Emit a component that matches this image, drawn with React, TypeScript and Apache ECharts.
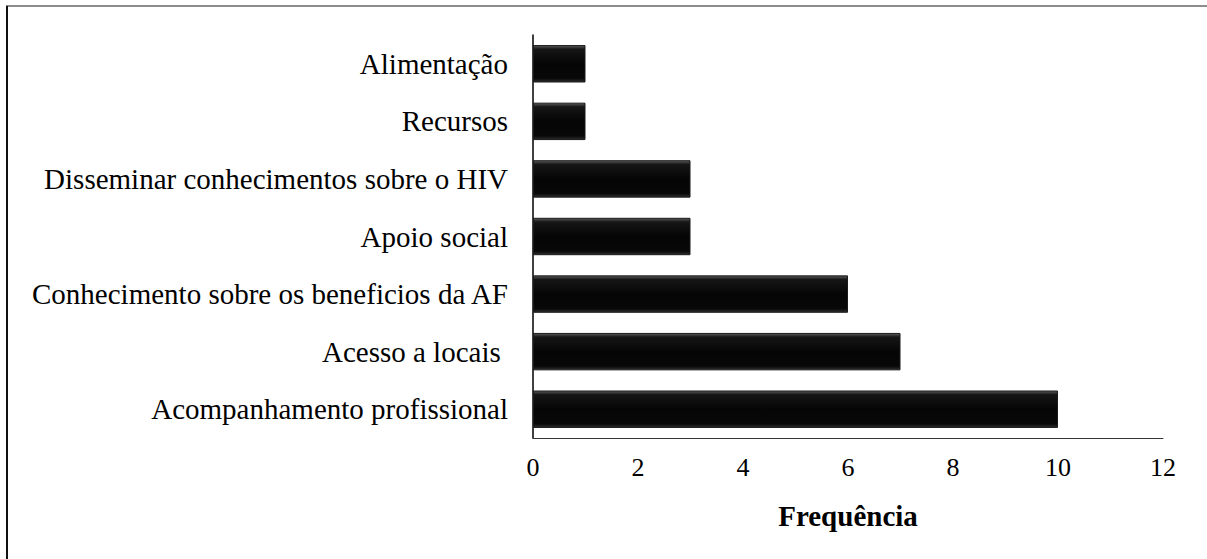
import React, { useEffect, useRef } from "react";
import * as echarts from "echarts";

const categories = [
  "Acompanhamento profissional",
  "Acesso a locais ",
  "Conhecimento sobre os beneficios da AF",
  "Apoio social",
  "Disseminar conhecimentos sobre o HIV",
  "Recursos",
  "Alimentação",
];
const values = [10, 7, 6, 3, 3, 1, 1];
const xTicks = { min: 0, max: 12, interval: 2 };
const xTitle = "Frequência";

export default function App() {
  const ref = useRef<HTMLDivElement>(null);
  useEffect(() => {
    if (!ref.current) return;
    const chart = echarts.init(ref.current, null, { renderer: "svg" });
    const font = "Liberation Serif, Times New Roman, serif";
    chart.setOption({
      animation: false,
      backgroundColor: "#fff",
      grid: { left: 533, right: 44, top: 35, bottom: 121, containLabel: false },
      graphic: [
        { type: "line", shape: { x1: 6, y1: 6, x2: 1207, y2: 6 }, style: { stroke: "#666", lineWidth: 1.5 } },
        { type: "line", shape: { x1: 7, y1: 6, x2: 7, y2: 559 }, style: { stroke: "#111", lineWidth: 2 } },
      ],
      xAxis: {
        type: "value",
        min: xTicks.min,
        max: xTicks.max,
        interval: xTicks.interval,
        name: xTitle,
        nameLocation: "middle",
        nameGap: 63,
        nameTextStyle: { fontFamily: font, fontSize: 29, fontWeight: "bold", color: "#000" },
        axisLine: { show: true, lineStyle: { color: "#333", width: 1 } },
        axisTick: { show: false },
        splitLine: { show: false },
        axisLabel: { fontFamily: font, fontSize: 26, color: "#000", margin: 16 },
      },
      yAxis: {
        type: "category",
        data: categories,
        axisLine: { show: true, lineStyle: { color: "#000", width: 1.5 } },
        axisTick: { show: false },
        axisLabel: { fontFamily: font, fontSize: 29, color: "#000", margin: 25 },
      },
      series: [
        {
          type: "bar",
          data: values,
          barCategoryGap: "35%",
          itemStyle: {
            color: new echarts.graphic.LinearGradient(0, 0, 0, 1, [
              { offset: 0, color: "#5a5a5a" },
              { offset: 0.1, color: "#161616" },
              { offset: 0.5, color: "#050505" },
              { offset: 0.9, color: "#080808" },
              { offset: 1, color: "#2e2e2e" },
            ]),
            borderColor: "#1a1a1a",
            borderWidth: 1,
          },
        },
      ],
    });
    return () => chart.dispose();
  }, []);
  return (
    <div
      ref={ref}
      style={{ position: "absolute", left: 0, top: 0, width: 1207, height: 559 }}
    />
  );
}
